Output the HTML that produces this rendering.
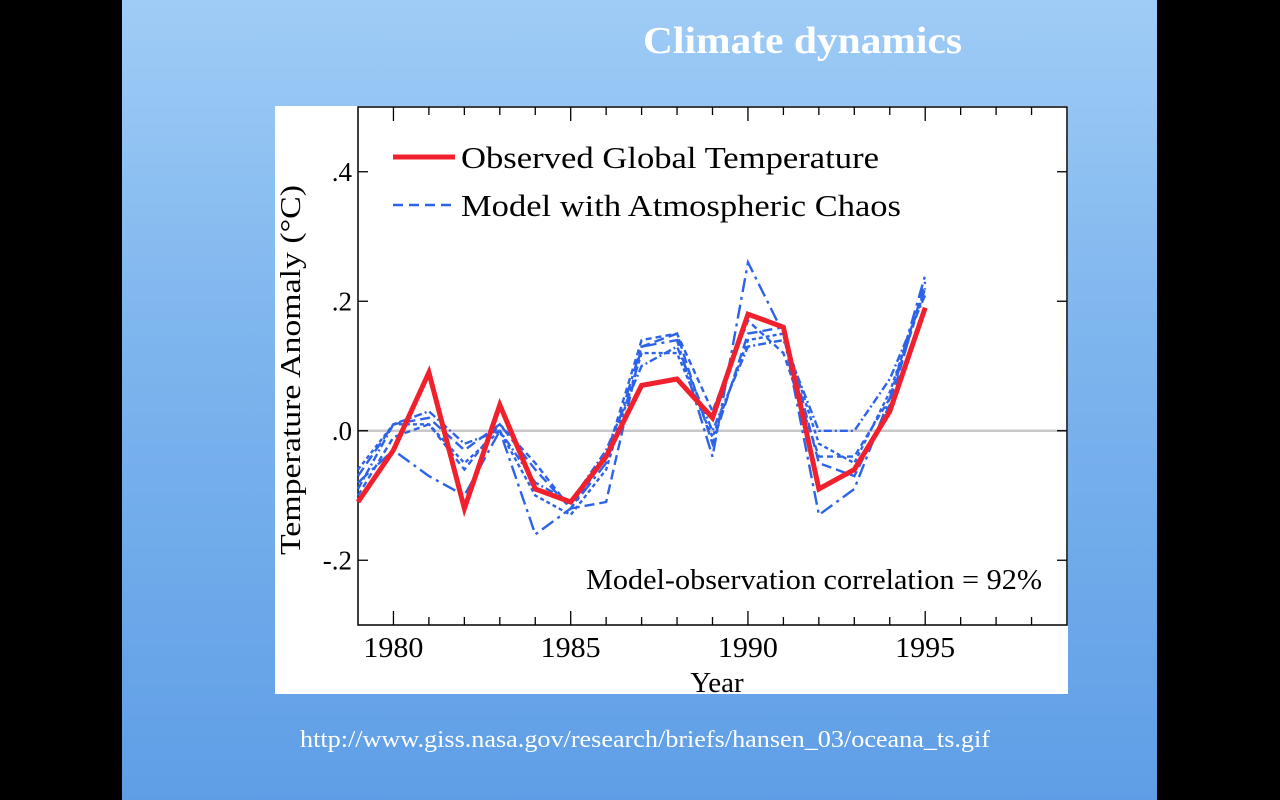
<!DOCTYPE html>
<html><head><meta charset="utf-8"><style>
html,body{margin:0;padding:0;background:#000;width:1280px;height:800px;overflow:hidden}
#slide{position:absolute;left:122px;top:0;width:1035px;height:800px;background:linear-gradient(#9fccf6 0%,#7fb6ee 40%,#5f9ee6 100%)}
</style></head><body>
<div id="slide"></div>
<svg id="chart" width="1280" height="800" style="position:absolute;left:0;top:0" font-family="Liberation Serif, serif">
<text x="643" y="53" font-size="38" font-weight="bold" fill="#fff" textLength="319" lengthAdjust="spacingAndGlyphs">Climate dynamics</text>
<rect x="275" y="106" width="793" height="588" fill="#fff"/>
<g id="plot"></g>
<text x="300" y="747" font-size="24" fill="#fff" textLength="690" lengthAdjust="spacingAndGlyphs">http://www.giss.nasa.gov/research/briefs/hansen_03/oceana_ts.gif</text>
</svg>
<script>
const years=[1979,1980,1981,1982,1983,1984,1985,1986,1987,1988,1989,1990,1991,1992,1993,1994,1995];
const observed=[-0.11,-0.03,0.09,-0.12,0.04,-0.09,-0.11,-0.04,0.07,0.08,0.02,0.18,0.16,-0.09,-0.06,0.03,0.19];
const modelA=[-0.08,-0.03,-0.07,-0.10,0.0,-0.16,-0.12,-0.05,0.13,0.14,-0.04,0.26,0.15,-0.13,-0.09,0.05,0.24];
const modelB=[-0.07,0.01,0.02,-0.03,0.01,-0.06,-0.12,-0.11,0.13,0.15,-0.02,0.15,0.16,-0.05,-0.07,0.04,0.23];
const modelC=[-0.06,0.01,0.01,-0.05,0.0,-0.10,-0.13,-0.06,0.12,0.12,-0.01,0.14,0.15,-0.02,-0.05,0.06,0.22];
const modelD=[-0.09,0.01,0.03,-0.02,0.0,-0.08,-0.11,-0.03,0.10,0.13,0.0,0.13,0.14,0.0,0.0,0.08,0.21];
const modelE=[-0.10,-0.01,0.01,-0.06,0.01,-0.05,-0.12,-0.04,0.14,0.15,0.03,0.17,0.12,-0.04,-0.04,0.05,0.22];
const xTicks=[1980,1985,1990,1995];
const yTicks=[0.4,0.2,0,-0.2];
const yTickLabels=['.4','.2','.0','-.2'];
const X0=358,X1=1067,Y0=107,Y1=625,xmin=1979,xmax=1999,ymin=-0.3,ymax=0.5;
const xs=v=>X0+(v-xmin)/(xmax-xmin)*(X1-X0);
const ys=v=>Y1-(v-ymin)/(ymax-ymin)*(Y1-Y0);
const g=document.getElementById('plot');
const NS='http://www.w3.org/2000/svg';
function mk(t,a){const e=document.createElementNS(NS,t);for(const k in a)e.setAttribute(k,a[k]);g.appendChild(e);return e;}
let z=mk('line',{x1:X0,x2:X1,y1:ys(0),y2:ys(0),stroke:'#c8c8c8','stroke-width':2.5});


let f=mk('rect',{x:X0,y:Y0,width:X1-X0,height:Y1-Y0,fill:'none',stroke:'#000','stroke-width':1.5});


for(let yr=1980;yr<=1998;yr++){const L=(yr%5==0)?14:8;const x=xs(yr);
 let t1=mk('line',{x1:x,x2:x,y1:Y1,y2:Y1-L,stroke:'#000','stroke-width':1.3});
 
 
 let t2=mk('line',{x1:x,x2:x,y1:Y0,y2:Y0+L,stroke:'#000','stroke-width':1.3});
 
 }
xTicks.forEach(v=>{let t=mk('text',{x:xs(v),y:657,'text-anchor':'middle','font-size':28,textLength:60,lengthAdjust:'spacingAndGlyphs'});t.textContent=v;
 
 });
yTicks.forEach((v,i)=>{const y=ys(v);
 let a=mk('line',{x1:X0,x2:X0+10,y1:y,y2:y,stroke:'#000','stroke-width':1.3});
 
 
 let b=mk('line',{x1:X1,x2:X1-10,y1:y,y2:y,stroke:'#000','stroke-width':1.3});
 
 
 let t=mk('text',{x:352,y:y+9,'text-anchor':'end','font-size':27});t.textContent=yTickLabels[i];
 
 });
let xt=mk('text',{x:717,y:692,'text-anchor':'middle','font-size':29});xt.textContent='Year';


let yt=mk('text',{x:0,y:0,'text-anchor':'middle','font-size':28,transform:'translate(300,370) rotate(-90)',textLength:370,lengthAdjust:'spacingAndGlyphs'});yt.textContent='Temperature Anomaly (°C)';


const path=arr=>arr.map((v,i)=>(i?'L':'M')+xs(years[i]).toFixed(1)+','+ys(v).toFixed(1)).join(' ');
const models=[[modelA,'14,5,3,5'],[modelB,'10,5'],[modelC,'4,3'],[modelD,'8,3,2,3'],[modelE,'6,4']];
models.forEach((m,i)=>{let p=mk('path',{d:path(m[0]),fill:'none',stroke:'#2d63e8','stroke-width':2.4,'stroke-dasharray':m[1]});
 
 });
let o=mk('path',{d:path(observed),fill:'none',stroke:'#f0202c','stroke-width':5,'stroke-linejoin':'miter'});


let l1=mk('line',{x1:393,x2:455,y1:157,y2:157,stroke:'#f0202c','stroke-width':5});


let lt1=mk('text',{x:461,y:168,'font-size':31,textLength:418,lengthAdjust:'spacingAndGlyphs'});lt1.textContent='Observed Global Temperature';


let l2=mk('line',{x1:393,x2:455,y1:205,y2:205,stroke:'#2d63e8','stroke-width':2.5,'stroke-dasharray':'10,6'});


let lt2=mk('text',{x:461,y:216,'font-size':31,textLength:440,lengthAdjust:'spacingAndGlyphs'});lt2.textContent='Model with Atmospheric Chaos';


let c=mk('text',{x:1042,y:589,'text-anchor':'end','font-size':28,textLength:456,lengthAdjust:'spacingAndGlyphs'});c.textContent='Model-observation correlation = 92%';


</script>
</body></html>
